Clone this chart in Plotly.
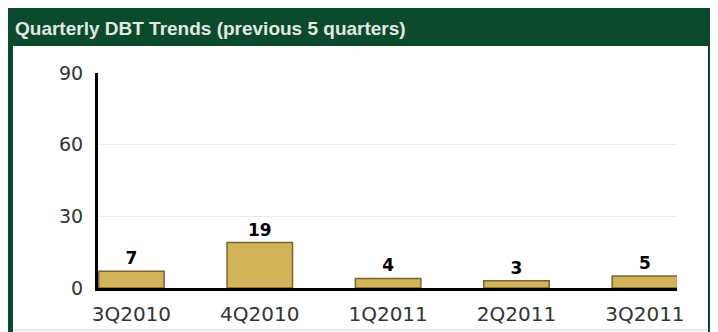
import plotly.graph_objects as go

categories = ["3Q2010", "4Q2010", "1Q2011", "2Q2011", "3Q2011"]
values = [7, 19, 4, 3, 5]
y_ticks = [0, 30, 60, 90]
title_text = "Quarterly DBT Trends (previous 5 quarters)"

# The page body has an 8px margin, so the figure is drawn from page (8, 8).
OFF = 8
W, H = 718 - OFF, 332 - OFF
L, R, T, B = 98 - OFF, 677 - OFF, 73 - OFF, 288 - OFF  # plot area in figure pixels


def fx(page_px):
    return (page_px - OFF - L) / (R - L)


def fy(page_py):
    return (B - (page_py - OFF)) / (B - T)


GREEN = "#0c4a2d"

fig = go.Figure(
    go.Bar(
        x=categories,
        y=values,
        marker=dict(color="#d4b45a", line=dict(color="#7a6530", width=1.5)),
        texttemplate="%{y}",
        textposition="outside",
        textfont=dict(family="DejaVu Sans", size=17, color="black", weight="bold"),
        cliponaxis=False,
    )
)

shapes = [
    # title bar
    dict(type="rect", xref="paper", yref="paper", x0=fx(8), x1=fx(714), y0=fy(46), y1=fy(4),
         fillcolor=GREEN, line=dict(width=0), layer="above"),
    # left border
    dict(type="rect", xref="paper", yref="paper", x0=fx(8), x1=fx(13), y0=fy(340), y1=fy(4),
         fillcolor=GREEN, line=dict(width=0), layer="above"),
    # right border
    dict(type="rect", xref="paper", yref="paper", x0=fx(708), x1=fx(714), y0=fy(340), y1=fy(4),
         fillcolor=GREEN, line=dict(width=0), layer="above"),
    # faint bottom line
    dict(type="line", xref="paper", yref="paper", x0=fx(13), x1=fx(708), y0=fy(330), y1=fy(330),
         line=dict(color="#d0d4d4", width=1), layer="above"),
]

fig.update_layout(
    width=W,
    height=H,
    margin=dict(l=L, r=W - R, t=T, b=H - B, pad=0, autoexpand=False),
    paper_bgcolor="white",
    plot_bgcolor="white",
    showlegend=False,
    bargap=0.49,
    shapes=shapes,
    annotations=[
        dict(text=title_text, xref="paper", yref="paper", x=fx(13), y=fy(28),
             xanchor="left", yanchor="middle", showarrow=False,
             font=dict(family="Liberation Sans, Arial", size=19, color="#e2e9e2", weight="bold"))
    ],
    xaxis=dict(
        type="category",
        range=[-0.26, 4.25],
        automargin=False,
        showline=True,
        linecolor="black",
        linewidth=3,
        showgrid=False,
        ticks="",
        ticklabelstandoff=6,
        tickfont=dict(family="DejaVu Sans", size=20, color="#333333"),
        fixedrange=True,
    ),
    yaxis=dict(
        range=[0, 90],
        tickvals=y_ticks,
        automargin=False,
        showline=True,
        linecolor="black",
        linewidth=3,
        showgrid=True,
        gridcolor="#ececec",
        gridwidth=1,
        zeroline=False,
        ticks="",
        ticklabelstandoff=8,
        tickfont=dict(family="DejaVu Sans", size=19, color="#333333"),
        fixedrange=True,
    ),
)

fig.write_html("out.html")
